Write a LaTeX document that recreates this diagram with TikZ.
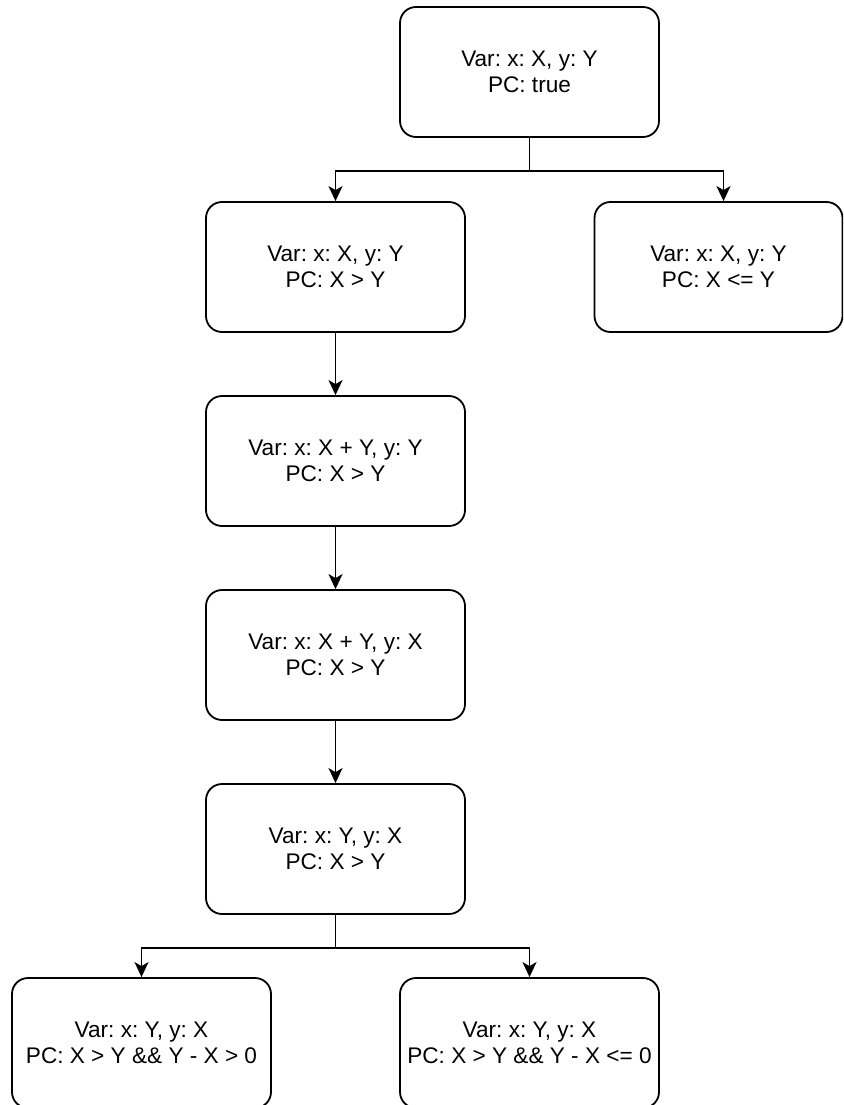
\documentclass[tikz,border=0pt]{standalone}
\usepackage{fontspec}
\setmainfont{Liberation Sans}
\usetikzlibrary{arrows.meta}
\frenchspacing
\tikzset{
  box/.style={draw, line width=1.8pt, rounded corners=16pt, minimum width=259pt, minimum height=130pt,
    inner sep=0pt, align=center, font=\frenchspacing\fontsize{22.6pt}{26.5pt}\selectfont},
  conn/.style={line width=1.8pt},
  arr/.style={conn, -{Stealth[length=15pt, width=14pt, inset=4pt]}}
}
\begin{document}
\begin{tikzpicture}[x=1pt, y=-1pt]
\useasboundingbox (0,0) rectangle (843,1105);
\clip (0,0) rectangle (843,1105);
\node[box] (top) at (529.5,72) {Var: x: X, y: Y\\PC: true};
\node[box] (l1) at (335.5,267) {Var: x: X, y: Y\\PC: X > Y};
\node[box, minimum width=248pt] (r1) at (718.5,267) {Var: x: X, y: Y\\PC: X <= Y};
\node[box] (l2) at (335.5,461) {Var: x: X + Y, y: Y\\PC: X > Y};
\node[box] (l3) at (335.5,655) {Var: x: X + Y, y: X\\PC: X > Y};
\node[box] (l4) at (335.5,849) {Var: x: Y, y: X\\PC: X > Y};
\node[box] (b1) at (141.5,1043) {Var: x: Y, y: X\\PC: X > Y \&\& Y - X > 0};
\node[box] (b2) at (529.5,1043) {Var: x: Y, y: X\\PC: X > Y \&\& Y - X <= 0};
\draw[conn] (top.south) -- ++(0,33) coordinate (s1);
\draw[arr] (s1) -| (l1.north);
\draw[arr] (s1) -| ([xshift=5pt]r1.north);
\draw[arr] (l1) -- (l2);
\draw[arr] (l2) -- (l3);
\draw[arr] (l3) -- (l4);
\draw[conn] (l4.south) -- ++(0,33) coordinate (s2);
\draw[arr] (s2) -| (b1.north);
\draw[arr] (s2) -| (b2.north);
\end{tikzpicture}
\end{document}
